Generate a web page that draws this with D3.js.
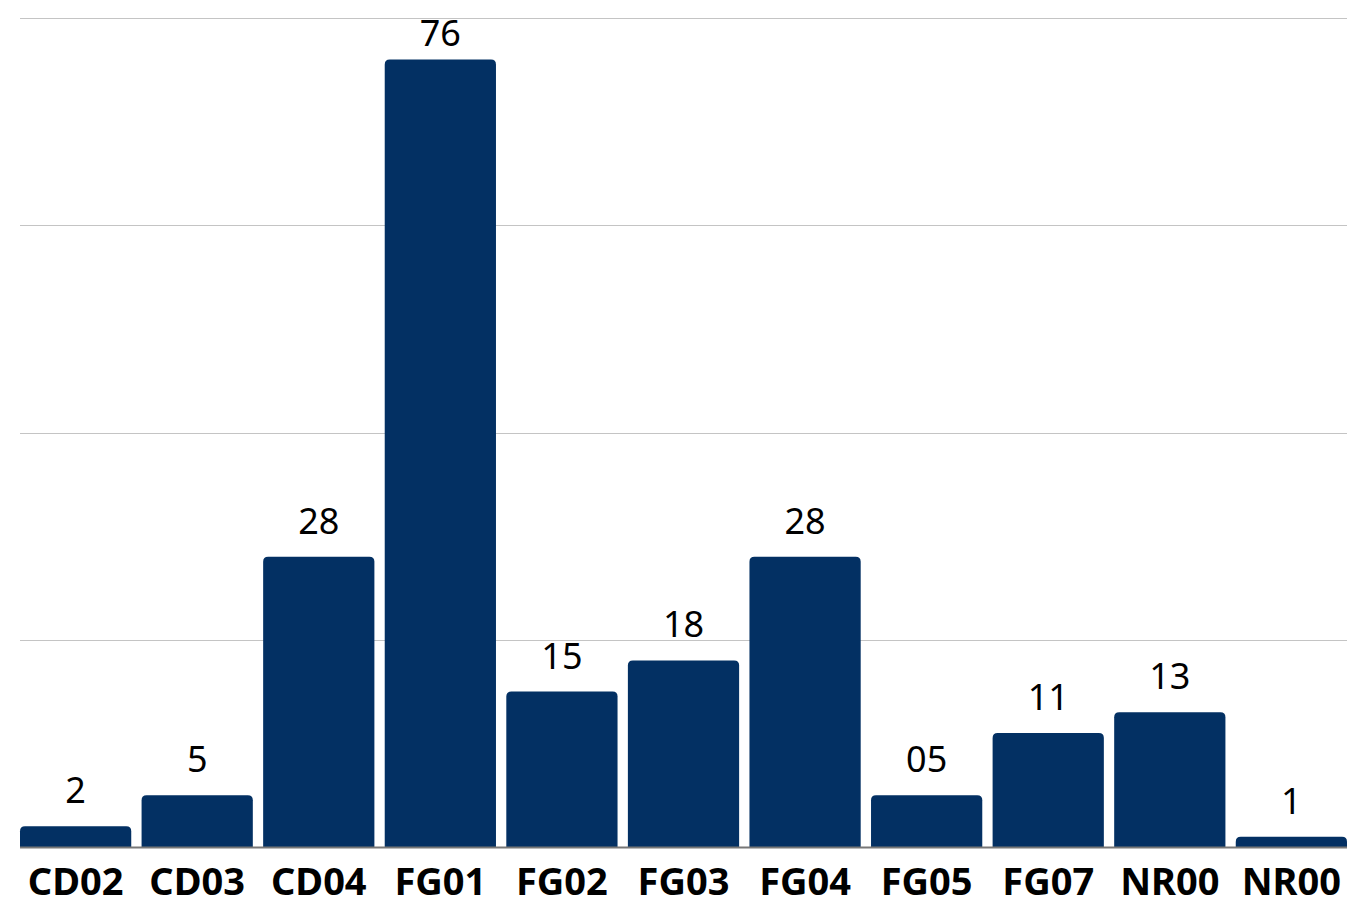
<!DOCTYPE html>
<html><head><meta charset="utf-8">
<script src="https://cdn.jsdelivr.net/npm/d3@7"></script>
<style>html,body{margin:0;padding:0;background:#fff;}svg{display:block;}</style>
</head><body><svg id="c" width="1350" height="901"></svg>
<script>
const categories = ["CD02","CD03","CD04","FG01","FG02","FG03","FG04","FG05","FG07","NR00","NR00"];
const values = [2,5,28,76,15,18,28,5,11,13,1];
const valueLabels = ["2","5","28","76","15","18","28","05","11","13","1"];
const yTicks = [0,20,40,60,80];

const W = 1350, H = 901;
const m = {left:20, right:3, top:18, bottom:54};
const svg = d3.select("#c");
const x = d3.scaleBand().domain(d3.range(categories.length)).range([m.left, W - m.right]).paddingInner(0.085).paddingOuter(0.0);
const y = d3.scaleLinear().domain([0,80]).range([H - m.bottom, m.top]);

svg.append("g").selectAll("line").data(yTicks.filter(d=>d>0)).join("line")
  .attr("x1", m.left).attr("x2", W - m.right)
  .attr("y1", d=>Math.round(y(d))+0.5).attr("y2", d=>Math.round(y(d))+0.5)
  .attr("stroke", "#c4c4c4").attr("stroke-width", 1.2);

const r = 5;
function barPath(x0, w, yt, yb){
  const rr = Math.min(r, (yb-yt), w/2);
  return `M${x0},${yb}V${yt+rr}Q${x0},${yt} ${x0+rr},${yt}H${x0+w-rr}Q${x0+w},${yt} ${x0+w},${yt+rr}V${yb}Z`;
}
svg.append("g").selectAll("path").data(values).join("path")
  .attr("d", (d,i)=>barPath(x(i), x.bandwidth(), y(d), y(0)))
  .attr("fill", "#033063");

svg.append("line").attr("x1", m.left).attr("x2", W - m.right)
  .attr("y1", y(0)+0.5).attr("y2", y(0)+0.5).attr("stroke", "#777").attr("stroke-width", 2);

svg.append("g").selectAll("text").data(values).join("text")
  .attr("x", (d,i)=>x(i)+x.bandwidth()/2)
  .attr("y", d=>Math.max(y(d)-23, 46))
  .attr("text-anchor","middle")
  .attr("font-family","'Noto Sans', 'Open Sans', sans-serif")
  .attr("font-size", 36).attr("fill","#000")
  .text((d,i)=>valueLabels[i]);

svg.append("g").selectAll("text").data(categories).join("text")
  .attr("x", (d,i)=>x(i)+x.bandwidth()/2)
  .attr("y", y(0)+48)
  .attr("text-anchor","middle")
  .attr("font-family","'Noto Sans', 'Open Sans', sans-serif")
  .attr("font-weight","bold")
  .attr("font-size", 38).attr("fill","#000")
  .text(d=>d);
</script></body></html>
